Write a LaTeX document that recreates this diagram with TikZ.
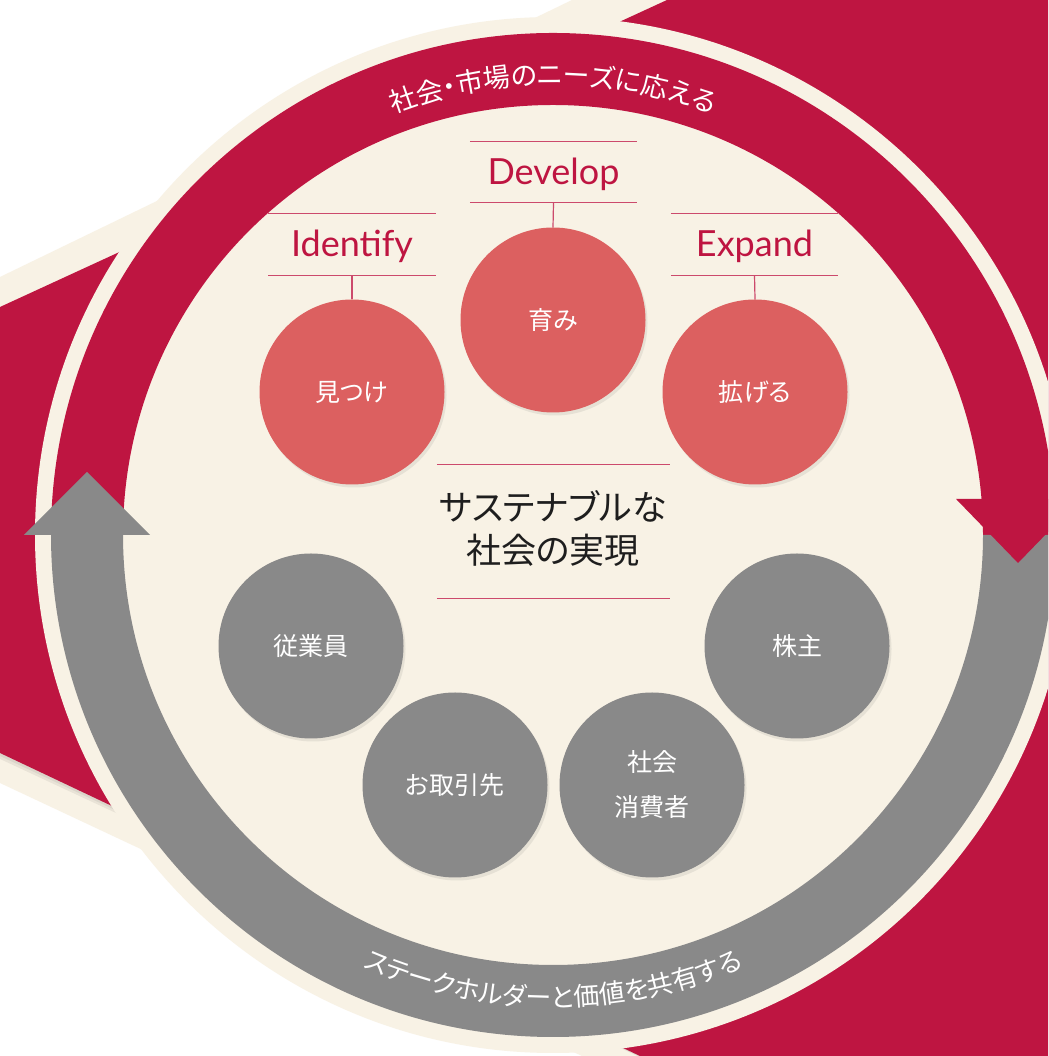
\documentclass[tikz,border=0pt]{standalone}
\usepackage{fontspec}
\setmainfont{Lato}
\newfontfamily\jpfont[RawFeature=+palt]{Noto Sans CJK JP}
\usetikzlibrary{decorations.text,shadows}
\definecolor{crim}{HTML}{BE1541}
\definecolor{cream}{HTML}{F8F2E5}
\definecolor{ringgray}{HTML}{898989}
\definecolor{salmon}{HTML}{DC6060}
\definecolor{rulecol}{HTML}{CC4A6C}
\definecolor{ink}{HTML}{1E1E1E}
\tikzset{
  bubble/.style={circle, minimum size=185pt, inner sep=0pt, text=white,
    align=center, font=\jpfont\fontsize{25}{45}\selectfont,
    drop shadow={opacity=0.15, shadow xshift=2pt, shadow yshift=-3pt}},
  redbubble/.style={bubble, fill=salmon},
  graybubble/.style={bubble, fill=ringgray},
  stagelabel/.style={minimum width=167pt, minimum height=61pt, inner sep=0pt,
    text height=30pt, text depth=5pt, text=crim, font=\fontsize{36}{36}\selectfont},
  rule/.style={draw=rulecol, line width=1.2pt},
  goalbox/.style={minimum width=233pt, minimum height=133pt, inner sep=0pt},
  goaltext/.style={align=center, text=ink, font=\jpfont\fontsize{35}{43}\selectfont, inner sep=0pt},
}
\begin{document}
\begin{tikzpicture}[x=1pt,y=1pt]
\useasboundingbox (0,0) rectangle (1048,1056);
\clip (0,0) rectangle (1048,1056);
\fill[white] (0,0) rectangle (1048,1056);
\coordinate (C) at (553,521);
% big background arrow with cream border
\fill[cream] (0,779) -- (572,1056) -- (1048,1056) -- (1048,0) -- (582,0) -- (0,273) -- cycle;
\fill[black, opacity=0.06] (0,745) -- (667,1052) -- (1048,1052) -- (1048,-4) -- (646,-4) -- (0,297) -- cycle;
\fill[black, opacity=0.06] (0,747) -- (667,1054) -- (1048,1054) -- (1048,-2) -- (643,-2) -- (0,300) -- cycle;
\fill[crim] (0,749) -- (667,1056) -- (1048,1056) -- (1048,0) -- (640,0) -- (0,303) -- cycle;
% main disc
\fill[cream] (C) circle[radius=518];
% red band (upper half)
\fill[crim] ([shift={(C)}]0:502) arc[start angle=0,end angle=180,radius=502]
  -- ([shift={(C)}]180:430) arc[start angle=180,end angle=0,radius=430] -- cycle;
% gray band (lower half)
\fill[ringgray] ([shift={(C)}]180:502) arc[start angle=180,end angle=360,radius=502]
  -- ([shift={(C)}]360:430) arc[start angle=360,end angle=180,radius=430] -- cycle;
% arrowheads
\fill[ringgray] (24,521) -- (150,521) -- (87,584) -- cycle;
\fill[crim] (956,557) -- (1080,557) -- (1018,493) -- cycle;
% curved texts
\path[decorate, decoration={text along path, text align=center,
  text={|\jpfont\fontsize{27}{27}\selectfont\color{white}|社会・市場のニーズに応える}}]
  ([shift={(C)}]160:450) arc[start angle=160,end angle=20,radius=450];
\path[decorate, decoration={text along path, text align=center,
  text={|\jpfont\fontsize{26}{26}\selectfont\color{white}|ステークホルダーと価値を共有する}}]
  ([shift={(C)}]200:472) arc[start angle=200,end angle=340,radius=472];
% bubbles
\node[redbubble] (c1) at (352,664) {見つけ};
\node[redbubble] (c2) at (553,736) {育み};
\node[redbubble] (c3) at (755,664) {拡げる};
\node[graybubble] (g1) at (311,410) {従業員};
\node[graybubble] (g2) at (455,271) {お取引先};
\node[graybubble] (g3) at (652,271) {社会\\消費者};
\node[graybubble] (g4) at (797,410) {株主};
% stage labels
\node[stagelabel] (l1) at (352,811.5) {Identify};
\node[stagelabel] (l2) at (553.5,884) {Develop};
\node[stagelabel] (l3) at (754.5,811.5) {Expand};
\foreach \n in {l1,l2,l3} {
  \draw[rule] (\n.north west) -- (\n.north east);
  \draw[rule] (\n.south west) -- (\n.south east);
}
\draw[rule] (l1.south) -- (c1.north);
\draw[rule] (l2.south) -- (c2.north);
\draw[rule] (l3.south) -- (c3.north);
% goal
\node[goalbox] (goal) at (553.5,524.5) {};
\draw[rule] (goal.north west) -- (goal.north east);
\draw[rule] (goal.south west) -- (goal.south east);
\node[goaltext] (goaltxt) at (553,527.5) {サステナブルな\\社会の実現};
\end{tikzpicture}
\end{document}
